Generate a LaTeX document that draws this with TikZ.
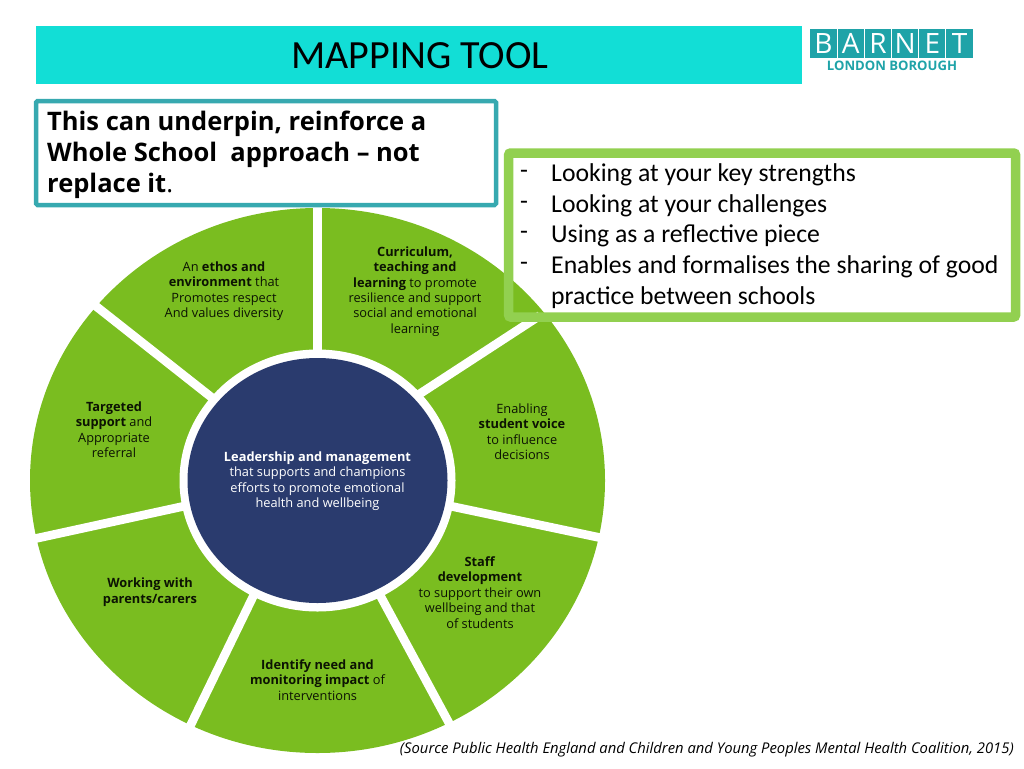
\documentclass[tikz,border=0pt]{standalone}
\usepackage{fontspec}
\setmainfont{Open Sans}
\newfontfamily\calfont{Carlito}
\definecolor{wheelgreen}{HTML}{7ABD20}
\definecolor{hubnavy}{HTML}{2A3B6E}
\definecolor{headcyan}{HTML}{12DED6}
\definecolor{boxteal}{HTML}{37A9B0}
\definecolor{boxgreen}{HTML}{92D050}
\definecolor{logoteal}{HTML}{1FA3A8}
\tikzset{
  gap/.style={draw=white, line width=8.7pt, shorten >=-12pt, shorten <=-12pt},
  wedgetext/.style={align=center, inner sep=0pt, text=black!90!wheelgreen,
    font=\fontsize{12.8}{15.4}\selectfont},
  bigtext/.style={anchor=west, align=left, inner sep=0pt,
    font=\calfont\fontsize{25.7}{30.7}\selectfont},
  logoletter/.style={fill=logoteal, text=white, minimum width=26.2pt, minimum height=29pt,
    inner sep=0pt, font=\fontsize{28}{28}\selectfont},
}
\begin{document}
\begin{tikzpicture}[x=1pt, y=-1pt]
  \useasboundingbox (0,0) rectangle (1024,768);
  \def\cx{317.5}
  \def\cy{480.5}
  %
  \fill[headcyan] (36,26) rectangle (802,84);   % header band
  \node[font=\calfont\fontsize{40}{40}\selectfont] (title) at (420,55.5) {MAPPING TOOL};
  %
  \foreach \ch [count=\i from 0] in {B,A,R,N,E,T}
    \node[logoletter] (logo\i) at (823.5+27.2*\i,43.5) {\ch};   % logo squares
  \node[text=logoteal, inner sep=0pt, font=\fontsize{13.1}{14}\selectfont\bfseries] (logotext) at (892,66)
    {LONDON BOROUGH};
  %
  \fill[wheelgreen] (\cx,\cy) ellipse [x radius=287.5pt, y radius=272.5pt];   % outer wheel
  \coordinate (p1a) at (317.3,380);   \coordinate (p1b) at (317.3,220);
  \coordinate (p2a) at (421,393);     \coordinate (p2b) at (530,322);
  \coordinate (p3a) at (453.3,506.7); \coordinate (p3b) at (598.3,537.3);
  \coordinate (p4a) at (381.7,598.3); \coordinate (p4b) at (448.3,721.7);
  \coordinate (p5a) at (253,596.7);   \coordinate (p5b) at (190.7,725);
  \coordinate (p6a) at (181.7,506.7); \coordinate (p6b) at (36.7,538.3);
  \coordinate (p7a) at (210.7,396.7); \coordinate (p7b) at (97,307);
  \foreach \k in {1,...,7}
    \draw[gap] (p\k a) -- (p\k b);   % white spokes
  \fill[white] (\cx,\cy) ellipse [x radius=138pt, y radius=131pt];
  \fill[hubnavy] (\cx,\cy) ellipse [x radius=130pt, y radius=122.5pt];   % hub
  %
  \node[wedgetext] (ethos) at (224,291)
    {An \textbf{ethos and}\\ \textbf{environment} that\\ Promotes respect\\ And values diversity};
  \node[wedgetext] (curriculum) at (415,291.5)
    {\textbf{Curriculum,}\\ \textbf{teaching and}\\ \textbf{learning} to promote\\ resilience and support\\ social and emotional\\ learning};
  \node[wedgetext] (targeted) at (114,429.5)
    {\textbf{Targeted}\\ \textbf{support} and\\ Appropriate\\ referral};
  \node[wedgetext] (voice) at (522,431.5)
    {Enabling\\ \textbf{student voice}\\ to influence\\ decisions};
  \node[wedgetext, text=white] (hubtext) at (317.5,481)
    {\textbf{Leadership and management}\\ that supports and champions\\ efforts to promote emotional\\ health and wellbeing};
  \node[wedgetext] (staff) at (480,592.5)
    {\textbf{Staff}\\ \textbf{development}\\ to support their own\\ wellbeing and that\\ of students};
  \node[wedgetext] (parents) at (150,592)
    {\textbf{Working with}\\ \textbf{parents/carers}};
  \node[wedgetext] (impact) at (317.5,680)
    {\textbf{Identify need and}\\ \textbf{monitoring impact} of\\ interventions};
  %
  \draw[boxteal, line width=4.5pt, fill=white, rounded corners=1.5pt] (36,101) rectangle (496,205);   % left box
  \node[bigtext, font=\fontsize{25.5}{30.7}\selectfont\bfseries] (wholeschool) at (47,155)
    {This can underpin, reinforce a\\ Whole School~ approach -- not\\ replace it\textmd{.}};
  %
  \draw[boxgreen, line width=9.5pt, rounded corners=2pt] (508.7,153) rectangle (1015.5,317);   % right box
  \node[bigtext] (dashes) at (520,220.5) {-\\ -\\ -\\ -};
  \node[bigtext] (looking) at (551,236)
    {Looking at your key strengths\\ Looking at your challenges\\ Using as a reflective piece\\ Enables and formalises the sharing of good\\ practice between schools};
  %
  \node[anchor=east, inner sep=0pt, font=\fontsize{14.8}{16}\selectfont\itshape] (source) at (1014,750)
    {(Source Public Health England and Children and Young Peoples Mental Health Coalition, 2015)};
\end{tikzpicture}
\end{document}
